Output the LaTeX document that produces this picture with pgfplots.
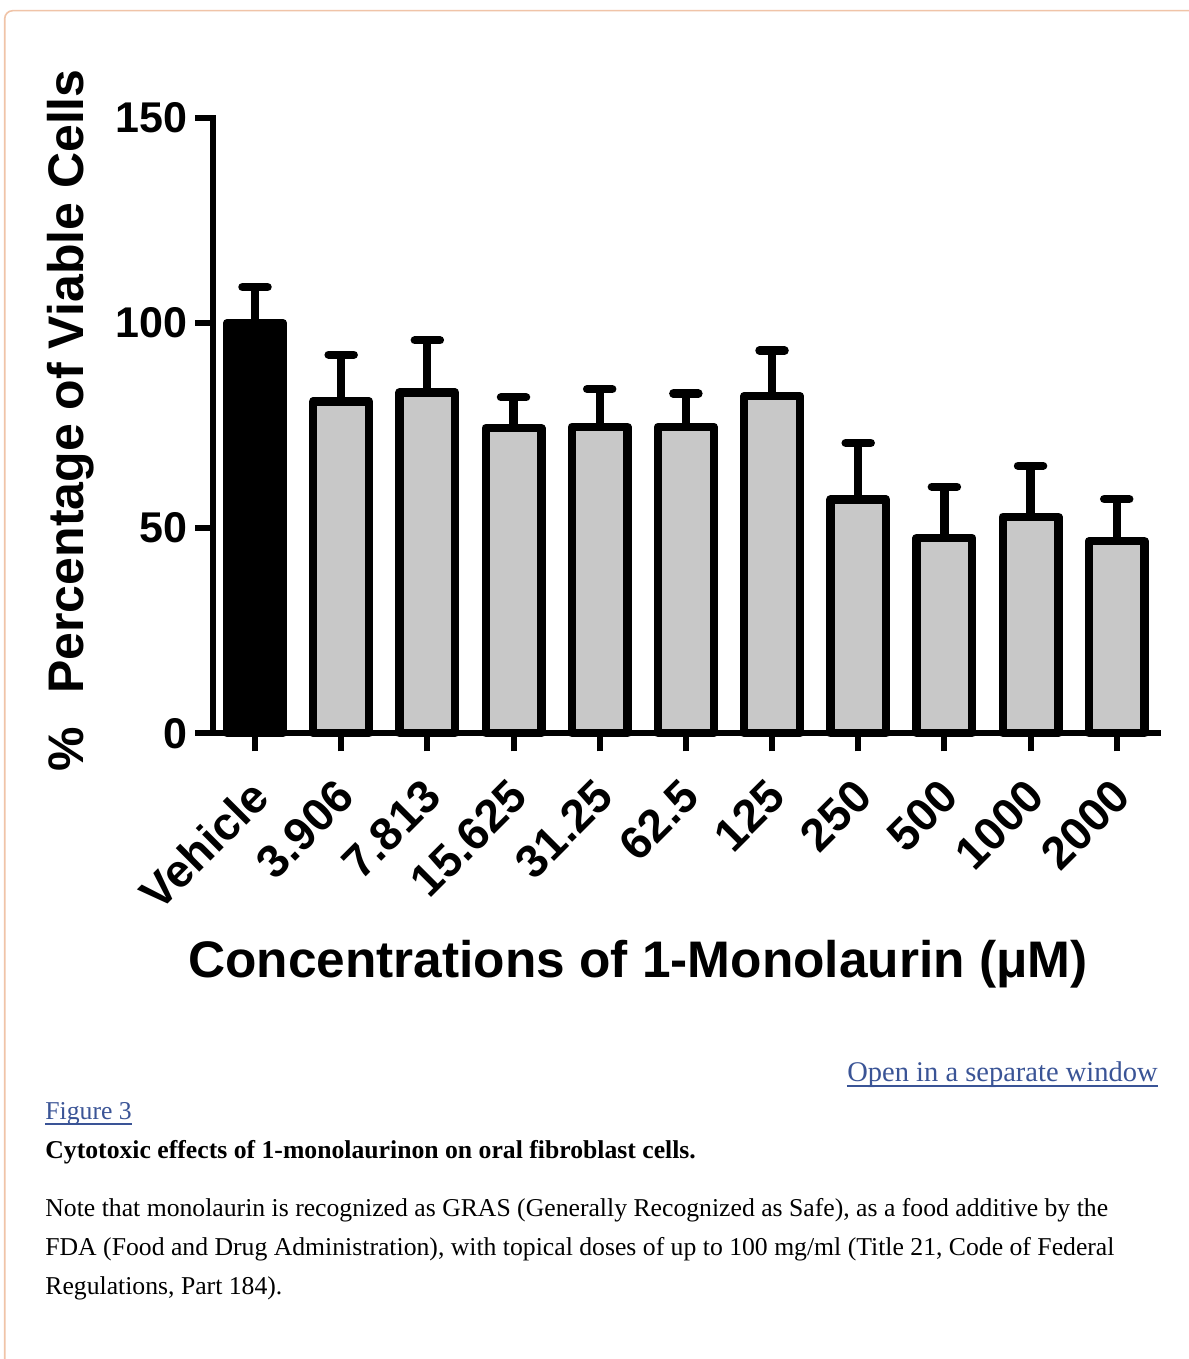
\documentclass[border=0pt]{standalone}
\usepackage{fontspec}
\setmainfont{Liberation Serif}
\newfontfamily\hv{Liberation Sans}
\usepackage{pgfplots}
\pgfplotsset{compat=1.18}
\definecolor{barGray}{RGB}{200,200,200}
\definecolor{linkBlue}{RGB}{58,84,150}
\definecolor{peach}{RGB}{240,196,168}
\begin{document}
\begin{tikzpicture}
\useasboundingbox (0,0) rectangle (594pt,679.5pt);
\fill[white] (0,0) rectangle (594pt,679.5pt);
\draw[peach, line width=0.8pt, rounded corners=4pt] (620pt,674.15pt) -- (2.35pt,674.15pt) -- (2.35pt,-20pt);
\begin{axis}[
  at={(106.5pt,312.85pt)}, anchor=south west,
  scale only axis, width=472.5pt, height=307.65pt,
  xmin=-0.4874, xmax=10.479, ymin=0, ymax=150,
  enlargelimits=false, clip=false,
  axis lines=left,
  axis line style={-, line width=3pt, line cap=rect, black},
  tick align=outside,
  major tick length=9pt,
  major tick style={line width=3pt, black},
  ytick={0,50,100,150},
  xtick={0,1,2,3,4,5,6,7,8,9,10},
  xticklabels={Vehicle,3.906,7.813,15.625,31.25,62.5,125,250,500,1000,2000},
  /pgf/number format/assume math mode=true,
  yticklabel style={font=\hv\bfseries\fontsize{21.5}{21.5}\selectfont, anchor=east, inner sep=0pt, xshift=-3.5pt},
  xticklabel style={font=\hv\bfseries\fontsize{23}{23}\selectfont, inner sep=0pt, xshift=2.5pt, yshift=-18.5pt, rotate=45, anchor=east},
  every axis y label/.style={at={(axis description cs:-0.13725,0.5089)}, anchor=base, rotate=90, font=\hv\bfseries\fontsize{25}{25}\selectfont, inner sep=0pt},
  every axis x label/.style={at={(axis description cs:0.4497,-0.3966)}, anchor=base, font=\hv\bfseries\fontsize{25.7}{25.7}\selectfont, inner sep=0pt},
  ylabel={\%\hspace{16.5pt}Percentage of Viable Cells},
  xlabel={Concentrations of 1-Monolaurin (μM)},
  ybar, bar width=27.85pt,
]
\addplot[bar shift=0pt, fill=black, draw=black, line width=4.15pt, line join=round,
  error bars/.cd, y dir=plus, y explicit, error mark=|,
  error bar style={line width=4.15pt, black},
  error mark options={line width=4.15pt, mark size=6.3pt, line cap=round, black}]
  coordinates {(0,100) +- (0,8.8)};
\addplot[bar shift=0pt, fill=barGray, draw=black, line width=4.15pt, line join=round,
  error bars/.cd, y dir=plus, y explicit, error mark=|,
  error bar style={line width=4.15pt, black},
  error mark options={line width=4.15pt, mark size=6.3pt, line cap=round, black}]
  coordinates {
  (1,80.9) +- (0,11.4)
  (2,83.1) +- (0,12.7)
  (3,74.4) +- (0,7.5)
  (4,74.7) +- (0,9.2)
  (5,74.7) +- (0,8.1)
  (6,82.2) +- (0,11.1)
  (7,57.0) +- (0,13.8)
  (8,47.6) +- (0,12.5)
  (9,52.8) +- (0,12.4)
  (10,46.8) +- (0,10.3)
  };
\end{axis}
\node[anchor=base east, inner sep=0pt, text=linkBlue, font=\fontsize{14.25}{14.25}\selectfont] (open) at (579pt,138.65pt) {Open in a separate window};
\draw[linkBlue, line width=0.7pt] ([yshift=-2.2pt]open.base west) -- ([yshift=-2.2pt]open.base east);
\node[anchor=base west, inner sep=0pt, text=linkBlue, font=\fontsize{12.85}{12.85}\selectfont] (fig) at (22.5pt,119.5pt) {Figure 3};
\draw[linkBlue, line width=0.7pt] ([yshift=-2pt]fig.base west) -- ([yshift=-2pt]fig.base east);
\node[anchor=base west, inner sep=0pt, font=\bfseries\fontsize{12.85}{12.85}\selectfont] at (22.5pt,100pt) {Cytotoxic effects of 1-monolaurinon on oral fibroblast cells.};
\node[anchor=base west, inner sep=0pt, font=\fontsize{12.85}{12.85}\selectfont] at (22.5pt,71.15pt) {Note that monolaurin is recognized as GRAS (Generally Recognized as Safe), as a food additive by the};
\node[anchor=base west, inner sep=0pt, font=\fontsize{12.85}{12.85}\selectfont] at (22.5pt,51.5pt) {FDA (Food and Drug Administration), with topical doses of up to 100 mg/ml (Title 21, Code of Federal};
\node[anchor=base west, inner sep=0pt, font=\fontsize{12.85}{12.85}\selectfont] at (22.5pt,32pt) {Regulations, Part 184).};
\end{tikzpicture}
\end{document}
